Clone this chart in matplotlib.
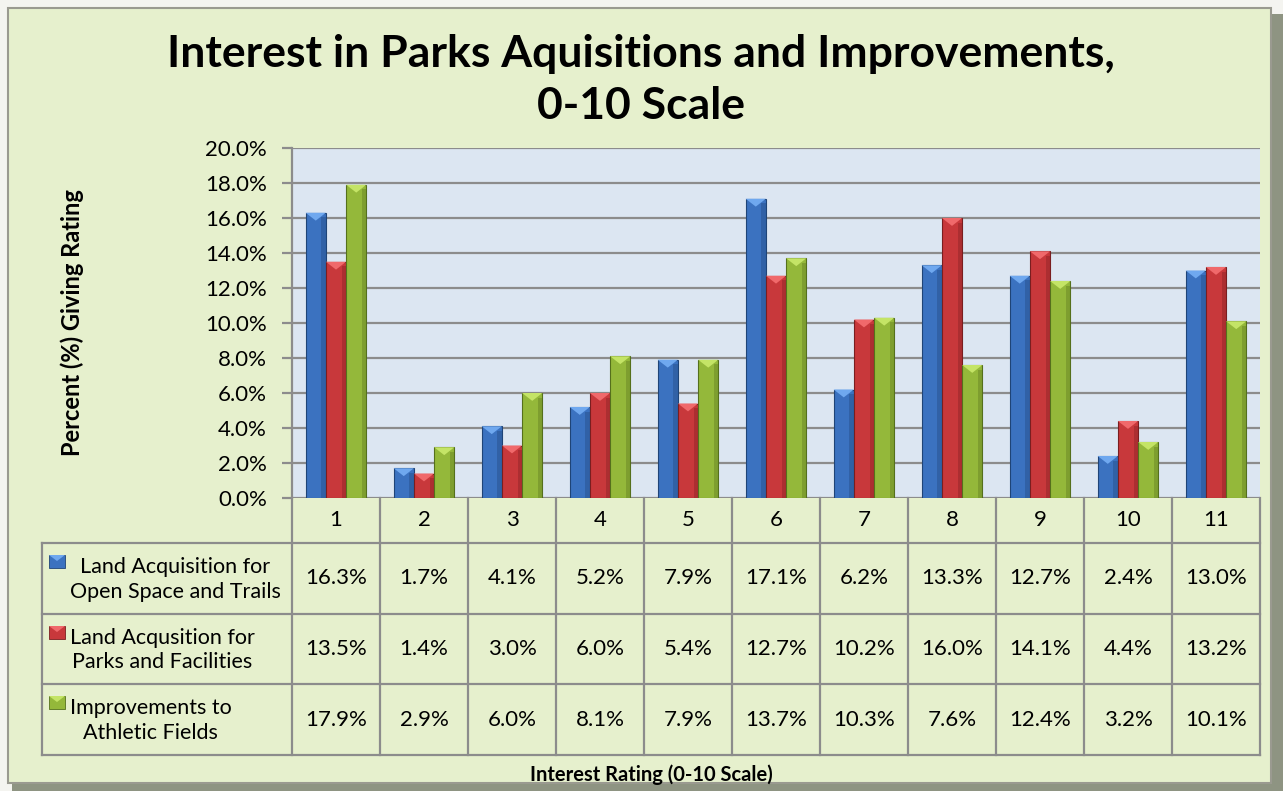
import matplotlib
matplotlib.use("Agg")
import matplotlib.pyplot as plt
from matplotlib.patches import Rectangle, Polygon
import numpy as np

plt.rcParams['font.family'] = ['Lato', 'DejaVu Sans']

# data
ratings = ['1', '2', '3', '4', '5', '6', '7', '8', '9', '10', '11']
series_names = ['Land Acquisition for\nOpen Space and Trails',
                'Land Acqusition for\nParks and Facilities',
                'Improvements to\nAthletic Fields']
open_space = [16.3, 1.7, 4.1, 5.2, 7.9, 17.1, 6.2, 13.3, 12.7, 2.4, 13.0]
parks_fac = [13.5, 1.4, 3.0, 6.0, 5.4, 12.7, 10.2, 16.0, 14.1, 4.4, 13.2]
athletic = [17.9, 2.9, 6.0, 8.1, 7.9, 13.7, 10.3, 7.6, 12.4, 3.2, 10.1]
yticks = [0, 2, 4, 6, 8, 10, 12, 14, 16, 18, 20]

series = [open_space, parks_fac, athletic]
face = ['#3b72c0', '#c8383b', '#94b83a']
light = ['#6fa8ef', '#f0696b', '#c4e466']
dark = ['#1f4477', '#7a1e20', '#55701c']

W, H = 1283, 791
bg = '#e6f0cd'
grid_c = '#8c8c8c'

fig = plt.figure(figsize=(W / 100, H / 100), dpi=100)
fig.patch.set_facecolor('#f4f4f0')


def fb(x0, y0, x1, y1):
    return [x0 / W, 1 - y1 / H, (x1 - x0) / W, (y1 - y0) / H]


# frame with shadow on right / bottom
fig.add_artist(Rectangle((12 / W, 0), 1 - 12 / W, 1 - 14 / H, transform=fig.transFigure,
                         facecolor='#8e9482', edgecolor='none', zorder=0))
fig.add_artist(Rectangle((8 / W, 8 / H), 1 - 20 / W, 1 - 16 / H, transform=fig.transFigure,
                         facecolor=bg, edgecolor='#9a9a90', linewidth=1.5, zorder=0))

px0, px1, py0, py1 = 292, 1260, 148, 498
ax = fig.add_axes(fb(px0, py0, px1, py1))
ax.set_facecolor('#dce6f2')
n = len(ratings)
x = np.arange(n)
bw = 0.23
ax.set_xlim(-0.5, n - 0.5)
ax.set_ylim(0, 20)
ax.set_yticks(yticks)
ax.set_yticklabels(['%.1f%%' % v for v in yticks], fontsize=16)
ax.set_xticks([])
ax.yaxis.grid(True, color=grid_c, linewidth=1.6)
ax.set_axisbelow(True)
for s in ['top', 'right', 'bottom']:
    ax.spines[s].set_visible(False)
ax.spines['left'].set_color(grid_c)
ax.spines['left'].set_linewidth(1.6)
ax.tick_params(axis='y', length=7, width=1.6, color=grid_c, pad=11)

tri_h = 0.45
for i, vals in enumerate(series):
    xs = x + (i - 1) * bw
    ax.bar(xs, vals, width=bw, color=face[i], edgecolor=dark[i], linewidth=0.8, zorder=3)
    for xc, v in zip(xs, vals):
        # bevel highlight on top
        th = min(tri_h, v * 0.5)
        ax.add_patch(Polygon([(xc - bw / 2, v), (xc + bw / 2, v), (xc, v - th)],
                             closed=True, facecolor=light[i], edgecolor='none', zorder=4))
        ax.add_patch(Rectangle((xc + bw * 0.28, 0), bw * 0.22, v - th * 0.6, facecolor=dark[i],
                               alpha=0.35, edgecolor='none', zorder=4))

ax.set_ylabel('Percent (%) Giving Rating', fontsize=17, fontweight='bold')
ax.yaxis.set_label_coords((84 - px0) / (px1 - px0), 0.5)

# data table
tx0, ty0, ty1 = 42, 498, 755
rows_y = [498, 543, 614, 684, 755]
tab = fig.add_axes(fb(tx0, ty0, px1, ty1))
tab.set_facecolor('none')
cat_px = (px1 - px0) / n
lab_w = (px0 - tx0) / cat_px
tab.set_xlim(-0.5 - lab_w, n - 0.5)
tab.set_ylim(ty1, ty0)
tab.axis('off')
lc = '#8c8c8c'
lw = 1.6
for k in range(n + 1):
    tab.plot([k - 0.5, k - 0.5], [rows_y[0], rows_y[-1]], color=lc, lw=lw, clip_on=False)
tab.plot([-0.5 - lab_w] * 2, [rows_y[1], rows_y[-1]], color=lc, lw=lw, clip_on=False)
for yy in rows_y[1:]:
    tab.plot([-0.5 - lab_w, n - 0.5], [yy, yy], color=lc, lw=lw, clip_on=False)
for k in range(n):
    tab.text(k, (rows_y[0] + rows_y[1]) / 2, ratings[k], ha='center', va='center', fontsize=16)
for i, vals in enumerate(series):
    yc = (rows_y[i + 1] + rows_y[i + 2]) / 2
    for k in range(n):
        tab.text(k, yc, '%.1f%%' % vals[k], ha='center', va='center', fontsize=16)
    # legend key
    kx = -0.5 - lab_w + 7 / cat_px
    ky = rows_y[i + 1] + 19
    tab.add_patch(Rectangle((kx, ky - 7), 16 / cat_px, 13, facecolor=face[i],
                            edgecolor=dark[i], lw=0.6, clip_on=False))
    tab.add_patch(Polygon([(kx, ky - 7), (kx + 16 / cat_px, ky - 7), (kx + 8 / cat_px, ky - 1)],
                          facecolor=light[i], edgecolor='none', clip_on=False))
    off = 28
    tab.text(-0.5 - lab_w + off / cat_px, yc + 1, series_names[i], ha='left', va='center',
             fontsize=15.5, multialignment='center', linespacing=1.3)

fig.text(641 / W, 1 - 80 / H, 'Interest in Parks Aquisitions and Improvements,\n0-10 Scale',
         ha='center', va='center', fontsize=32, fontweight='bold', linespacing=1.36)
fig.text(651 / W, 1 - 775 / H, 'Interest Rating (0-10 Scale)', ha='center', va='center',
         fontsize=14.5, fontweight='bold')

fig.savefig('out.png', dpi=100, facecolor=fig.get_facecolor())
